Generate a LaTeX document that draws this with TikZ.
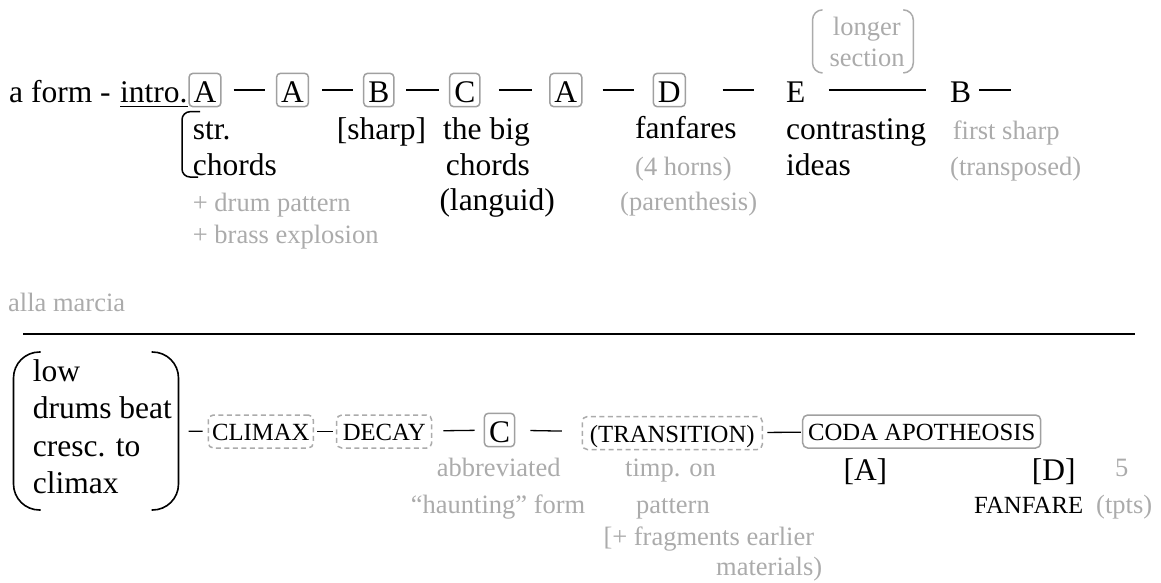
\documentclass[tikz,border=0pt]{standalone}
\usepackage{fontspec}
\setmainfont{Liberation Serif}
\definecolor{lightgrey}{HTML}{ABABAB}
\definecolor{framegrey}{HTML}{A0A0A0}
\newcommand{\mainsize}{\fontsize{31.5}{36}\selectfont}
\newcommand{\notesize}{\fontsize{26.5}{31}\selectfont}
\newcommand{\capsize}{\fontsize{24.7}{28}\selectfont}

\begin{document}
\begin{tikzpicture}[x=1pt, y=-1pt,
  every node/.style={inner sep=0pt},
  letter/.style={font=\mainsize, text height=26.5pt, text depth=2.5pt, inner xsep=4.6pt, inner ysep=2.2pt},
  keybox/.style={letter, draw=framegrey, line width=1.5pt, rounded corners=4pt},
  capbox/.style={font=\capsize, text height=22pt, text depth=4pt, inner xsep=3pt, inner ysep=3.5pt, draw=framegrey, line width=1.5pt, rounded corners=5pt},
  dashbox/.style={capbox, draw=lightgrey, dash pattern=on 5pt off 3.5pt},
  say/.style={font=\mainsize, anchor=base west},
  capsay/.style={font=\capsize, anchor=base west},
  note/.style={font=\notesize, text=lightgrey, anchor=base west},
  link/.style={line width=1.3pt},
]
\useasboundingbox (0,0) rectangle (1161,582);

% first line
\node (form) [say] at (9,102) {a form -};
\node (intro) [say] at (120,102) {intro.};
\draw[line width=1.5pt] ([yshift=-4.7pt]intro.base west) -- ([yshift=-4.7pt]intro.base east);
\node (introA) [keybox] at (205,90) {A};
\node (secondA) [keybox] at (292.5,90) {A};
\node (sharpB) [keybox] at (378.8,90) {B};
\node (bigC) [keybox] at (464.8,90) {C};
\node (returnA) [keybox] at (565.8,90) {A};
\node (fanfareD) [keybox] at (669.3,90) {D};
\node (contrastE) [letter] at (795.7,90) {E};
\node (firstB) [letter] at (960.7,90) {B};
\coordinate (tail) at (1010.7,90);
\draw[link, shorten <=12pt, shorten >=11pt] (introA) -- (secondA);
\draw[link, shorten <=13pt, shorten >=9.7pt] (secondA) -- (sharpB);
\draw[link, shorten <=11.7pt, shorten >=10pt] (sharpB) -- (bigC);
\draw[link, shorten <=18.3pt, shorten >=17.3pt] (bigC) -- (returnA);
\draw[link, shorten <=20pt, shorten >=18.7pt] (returnA) -- (fanfareD);
\draw[link, shorten <=36.7pt, shorten >=27.4pt] (fanfareD) -- (contrastE);
\draw[link, shorten <=18.7pt, shorten >=19.6pt] (contrastE) -- (firstB);
\draw[link, shorten <=3.2pt] (firstB) -- (tail);

% longer section
\node (longer) [minimum width=100.3pt, minimum height=62.7pt] at (862.9,41.4) {};
\draw[lightgrey, line width=1.5pt, rounded corners=10pt] ([xshift=10pt]longer.north west) -- (longer.north west) -- (longer.south west) -- ([xshift=10pt]longer.south west);
\draw[lightgrey, line width=1.5pt, rounded corners=10pt] ([xshift=-10pt]longer.north east) -- (longer.north east) -- (longer.south east) -- ([xshift=-10pt]longer.south east);
\node (longerA) [note] at (832.7,35) {longer};
\node (longerB) [note] at (829.3,66.7) {section};

% notes under the first line
\draw[line width=1.5pt, rounded corners=8pt] (200,111.7) -- (182,111.7) -- (182,177) -- (198,177);
\node (strA) [say] at (192.7,139) {str.};
\node (strB) [say] at (192.7,175) {chords};
\node (drumA) [note] at (192.7,211.7) {+ drum pattern};
\node (drumB) [note] at (192.7,243) {+ brass explosion};
\node (sharp) [say] at (336.7,139) {[sharp]};
\node (bigA) [say] at (443,139) {the big};
\node (bigB) [say] at (445.7,175) {chords};
\node (bigD) [say] at (439.3,210) {(languid)};
\node (fanA) [say] at (635,138) {fanfares};
\node (fanB) [note] at (635,175) {(4 horns)};
\node (fanD) [note] at (620,210) {(parenthesis)};
\node (conA) [say] at (786,139) {contrasting};
\node (conB) [say] at (786,175) {ideas};
\node (firstA) [note] at (952.7,139) {first sharp};
\node (firstD) [note] at (950,175) {(transposed)};

% alla marcia
\node (marcia) [note] at (8,311.7) {alla marcia};
\draw[line width=2pt] (23.3,334.3) -- (1135,334.3);

% second line
\node (lowdrums) [minimum width=164.6pt, minimum height=157.6pt] at (96,431) {};
\draw[line width=1.6pt, rounded corners=26pt] ([xshift=27pt]lowdrums.north west) -- (lowdrums.north west) -- (lowdrums.south west) -- ([xshift=27pt]lowdrums.south west);
\draw[line width=1.6pt, rounded corners=26pt] ([xshift=-27pt]lowdrums.north east) -- (lowdrums.north east) -- (lowdrums.south east) -- ([xshift=-27pt]lowdrums.south east);
\node (lowA) [say] at (32.6,381.7) {low};
\node (lowB) [say] at (32.6,418.9) {drums beat};
\node (lowC) [say] at (32.6,456.1) {cresc. to};
\node (lowD) [say] at (32.6,493.3) {climax};

\node (climax) [dashbox, minimum width=105pt] at (260.8,431.5) {CLIMAX};
\node (decay) [dashbox, minimum width=95pt] at (384.2,431.5) {DECAY};
\node (codaC) [keybox] at (499.5,430) {C};
\node (transition) [dashbox, minimum width=180pt] at (672.3,433) {(TRANSITION)};
\node (coda) [capbox, minimum width=238pt] at (921.7,431.5) {CODA APOTHEOSIS};
\draw[link, shorten <=10pt, shorten >=5pt] (lowdrums) -- (climax);
\draw[link, shorten <=3.4pt, shorten >=3.4pt] (climax) -- (decay);
\draw[link, shorten <=11pt, shorten >=9pt] (decay) -- (codaC);
\draw[link, shorten <=15pt, shorten >=19.6pt] (codaC) -- (transition);
\draw[link, shorten <=4.4pt, shorten >=1pt] (transition) -- (coda);

% notes under the second line
\node (abbrA) [note] at (436.7,476.7) {abbreviated};
\node (abbrB) [note] at (410.7,513.3) {``haunting'' form};
\node (timpA) [note] at (625,476.7) {timp. on};
\node (timpB) [note] at (636,513.3) {pattern};
\node (timpC) [note] at (603.3,545) {[+ fragments earlier};
\node (timpD) [note] at (716,575) {materials)};
\node (codaA) [say] at (843.3,480) {[A]};
\node (codaD) [say] at (1031.7,480) {[D]};
\node (five) [note] at (1115,476.7) {5};
\node (fanfare) [capsay] at (974,513.3) {FANFARE};
\node (tpts) [note] at (1096,513.3) {(tpts)};

\end{tikzpicture}
\end{document}
